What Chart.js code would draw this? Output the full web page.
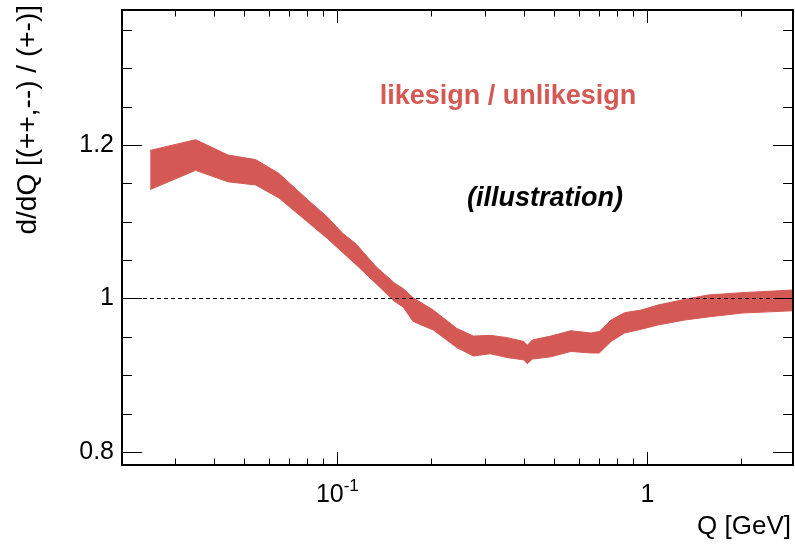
<!DOCTYPE html>
<html>
<head>
<meta charset="utf-8">
<script src="https://cdn.jsdelivr.net/npm/chart.js@4.4.1/dist/chart.umd.min.js"></script>
<style>
  html, body { margin: 0; padding: 0; background: #fff; }
  #wrap { width: 795px; height: 545px; }
</style>
</head>
<body>
<div id="wrap"><canvas id="ratioChart" width="795" height="545"></canvas></div>
<script>
// band: Q [GeV], upper and lower edge of the ratio
const qValues = [0.0249, 0.0349, 0.0444, 0.0545, 0.0648, 0.0811, 0.0930, 0.1040, 0.1150, 0.1336,
  0.1531, 0.1629, 0.1756, 0.2039, 0.2428, 0.2750, 0.3114, 0.3530, 0.3996, 0.4100,
  0.4256, 0.4880, 0.5663, 0.6578, 0.6999, 0.7640, 0.8438, 0.956, 1.083, 1.322,
  1.574, 2.019, 2.934];
const upperValues = [1.193, 1.207, 1.187, 1.181, 1.163, 1.127, 1.106, 1.085, 1.071, 1.041,
  1.020, 1.013, 1.001, 0.985, 0.961, 0.951, 0.952, 0.949, 0.944, 0.939,
  0.946, 0.951, 0.958, 0.955, 0.957, 0.972, 0.9815, 0.985, 0.9915, 0.999,
  1.0046, 1.0076, 1.011];
const lowerValues = [1.142, 1.167, 1.152, 1.148, 1.131, 1.098, 1.078, 1.060, 1.044, 1.019,
  0.996, 0.989, 0.970, 0.959, 0.936, 0.925, 0.928, 0.923, 0.920, 0.915,
  0.921, 0.924, 0.931, 0.929, 0.929, 0.944, 0.955, 0.960, 0.9655, 0.972,
  0.976, 0.981, 0.984];

const yTickValues = [0.8, 1, 1.2];
const yTickLabels = ["0.8", "1", "1.2"];
const yMinorStep = 0.05;
const xTickValues = [0.1, 1];
const xTickLabels = [["10", "-1"], ["1", ""]];
const xMinorValues = [0.02, 0.03, 0.04, 0.05, 0.06, 0.07, 0.08, 0.09,
  0.2, 0.3, 0.4, 0.5, 0.6, 0.7, 0.8, 0.9, 2];
const refLevel = 1;

const xMin = 0.0202, xMax = 2.95;
const yMin = 0.783, yMax = 1.376;

const bandColor = "#d45954";
const fontName = "'Liberation Sans', Arial, Helvetica, sans-serif";

// frame, ROOT style ticks, dashed line at 1 and the text
const decorPlugin = {
  id: "decor",
  afterDatasetsDraw(chart) {
    const ctx = chart.ctx;
    const area = chart.chartArea;
    const ys = chart.scales.y;

    // dashed reference line
    ctx.save();
    ctx.strokeStyle = "#000";
    ctx.lineWidth = 1;
    ctx.setLineDash([4, 3]);
    const yr = Math.round(ys.getPixelForValue(refLevel)) + 0.5;
    ctx.beginPath();
    ctx.moveTo(area.left, yr);
    ctx.lineTo(area.right, yr);
    ctx.stroke();
    ctx.restore();
  },
  afterDraw(chart) {
    const ctx = chart.ctx;
    const area = chart.chartArea;
    const xs = chart.scales.x, ys = chart.scales.y;
    ctx.save();
    ctx.strokeStyle = "#000";

    // ticks
    ctx.lineWidth = 1;
    ctx.beginPath();
    const yMajorLen = 20, yMinorLen = 10, xMajorLen = 13, xMinorLen = 6.5;
    for (let v = 0.8; v <= yMax + 1e-9; v += yMinorStep) {
      const isMajor = yTickValues.some(t => Math.abs(t - v) < 1e-6);
      const len = isMajor ? yMajorLen : yMinorLen;
      const py = Math.round(ys.getPixelForValue(v)) + 0.5;
      ctx.moveTo(area.left, py); ctx.lineTo(area.left + len, py);
      ctx.moveTo(area.right, py); ctx.lineTo(area.right - len, py);
    }
    xMinorValues.forEach(v => {
      const px = Math.round(xs.getPixelForValue(v)) + 0.5;
      ctx.moveTo(px, area.bottom); ctx.lineTo(px, area.bottom - xMinorLen);
      ctx.moveTo(px, area.top); ctx.lineTo(px, area.top + xMinorLen);
    });
    xTickValues.forEach(v => {
      const px = Math.round(xs.getPixelForValue(v)) + 0.5;
      ctx.moveTo(px, area.bottom); ctx.lineTo(px, area.bottom - xMajorLen);
      ctx.moveTo(px, area.top); ctx.lineTo(px, area.top + xMajorLen);
    });
    ctx.stroke();

    // frame
    ctx.lineWidth = 2;
    ctx.strokeRect(area.left, area.top, area.right - area.left, area.bottom - area.top);

    // x tick labels with exponent
    ctx.fillStyle = "#000";
    ctx.textBaseline = "alphabetic";
    xTickValues.forEach((v, i) => {
      const base = xTickLabels[i][0], exp = xTickLabels[i][1];
      ctx.font = "25px " + fontName;
      const wb = ctx.measureText(base).width;
      ctx.font = "17px " + fontName;
      const we = exp ? ctx.measureText(exp).width : 0;
      const px = xs.getPixelForValue(v);
      const start = px - (wb + we) / 2;
      ctx.font = "25px " + fontName;
      ctx.textAlign = "left";
      ctx.fillText(base, start, 502);
      if (exp) {
        ctx.font = "17px " + fontName;
        ctx.fillText(exp, start + wb, 491);
      }
    });

    // axis titles
    ctx.font = "26px " + fontName;
    ctx.textAlign = "right";
    ctx.textBaseline = "middle";
    ctx.fillText("Q [GeV]", 791, 527);

    ctx.save();
    ctx.translate(28, 5);
    ctx.rotate(-Math.PI / 2);
    ctx.font = "28px " + fontName;
    ctx.textAlign = "right";
    ctx.textBaseline = "middle";
    ctx.fillText("d/dQ [(++,--) / (+-)]", 0, 0);
    ctx.restore();

    // labels in the pad
    ctx.textAlign = "center";
    ctx.textBaseline = "middle";
    ctx.fillStyle = bandColor;
    ctx.font = "bold 27px " + fontName;
    ctx.fillText("likesign / unlikesign", 508, 97);
    ctx.fillStyle = "#000";
    ctx.font = "italic bold 27px " + fontName;
    ctx.fillText("(illustration)", 545, 199);

    ctx.restore();
  }
};

const toPoints = vals => qValues.map((q, i) => ({ x: q, y: vals[i] }));

new Chart(document.getElementById("ratioChart"), {
  type: "line",
  data: {
    datasets: [
      {
        label: "lower",
        data: toPoints(lowerValues),
        borderColor: bandColor,
        borderWidth: 1,
        pointRadius: 0,
        fill: false,
        tension: 0
      },
      {
        label: "upper",
        data: toPoints(upperValues),
        borderColor: bandColor,
        backgroundColor: bandColor,
        borderWidth: 1,
        pointRadius: 0,
        fill: "-1",
        tension: 0
      }
    ]
  },
  options: {
    responsive: false,
    animation: false,
    devicePixelRatio: 1,
    layout: { padding: { left: 0, right: 2, top: 10, bottom: 0 } },
    plugins: { legend: { display: false }, tooltip: { enabled: false } },
    scales: {
      x: {
        type: "logarithmic",
        min: xMin,
        max: xMax,
        grid: { display: false },
        border: { display: false },
        ticks: { display: false },
        afterFit(scale) {
          scale.height = 80;
          scale.paddingLeft = 0;
          scale.paddingRight = 0;
        }
      },
      y: {
        type: "linear",
        min: yMin,
        max: yMax,
        grid: { display: false },
        border: { display: false },
        afterBuildTicks(scale) {
          scale.ticks = yTickValues.map(v => ({ value: v }));
        },
        ticks: {
          padding: 0,
          color: "#000",
          font: { family: fontName, size: 25 },
          callback(value) {
            const i = yTickValues.findIndex(t => Math.abs(t - value) < 1e-6);
            return i >= 0 ? yTickLabels[i] : "";
          }
        },
        afterFit(scale) {
          scale.width = 122;
          scale.paddingTop = 0;
          scale.paddingBottom = 0;
        }
      }
    }
  },
  plugins: [decorPlugin]
});
</script>
</body>
</html>
